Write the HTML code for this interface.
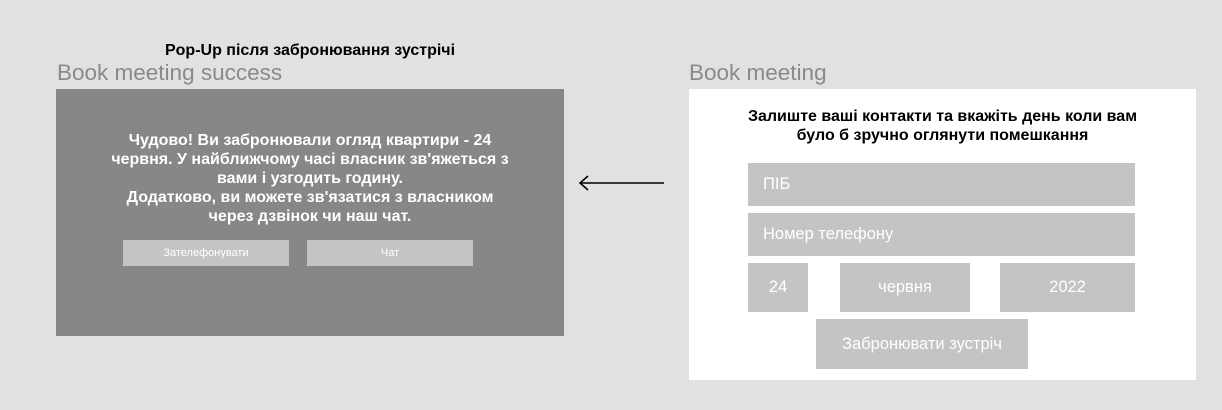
<!DOCTYPE html>
<html><head><meta charset="utf-8"><style>
body{margin:0;width:1222px;height:410px;background:#e2e0e1;position:relative;overflow:hidden;font-family:"Liberation Sans","DejaVu Sans",sans-serif}
.a{position:absolute}
.f{background:#c4c4c4;color:#fff;font-size:16.5px;display:flex;align-items:center}
</style></head><body>
<div class="a" style="left:56px;top:42px;width:508px;text-align:center;font-weight:bold;font-size:16px;color:#000">Pop-Up після забронювання зустрічі</div>
<div class="a" style="left:57px;top:60px;font-size:22.5px;color:#8a8a8a">Book meeting success</div>
<div class="a" style="left:56px;top:89px;width:508px;height:247px;background:#878787"></div>
<div class="a" style="left:56px;top:131px;width:508px;text-align:center;color:#fff;font-weight:bold;font-size:16px;line-height:19px">Чудово! Ви забронювали огляд квартири - 24<br>червня. У найближчому часі власник зв'яжеться з<br>вами і узгодить годину.<br>Додатково,  ви можете зв'язатися з власником<br>через дзвінок чи наш чат.</div>
<div class="a f" style="left:123px;top:240px;width:166px;height:26px;justify-content:center;font-size:11px">Зателефонувати</div>
<div class="a f" style="left:307px;top:240px;width:166px;height:26px;justify-content:center;font-size:11px">Чат</div>
<svg class="a" style="left:570px;top:170px" width="100" height="26"><line x1="10" y1="13" x2="94" y2="13" stroke="#000" stroke-width="1.5"/><polyline points="18,6 10,13 18,20" fill="none" stroke="#000" stroke-width="1.5"/></svg>
<div class="a" style="left:689px;top:60px;font-size:22.5px;color:#8a8a8a">Book meeting</div>
<div class="a" style="left:689px;top:89px;width:507px;height:291px;background:#fff"></div>
<div class="a" style="left:689px;top:107px;width:507px;text-align:center;font-weight:bold;font-size:16px;line-height:19px;color:#000">Залиште ваші контакти та вкажіть день коли вам<br>було б зручно оглянути помешкання</div>
<div class="a f" style="left:748px;top:163px;width:387px;height:43px;padding-left:15px;box-sizing:border-box">ПІБ</div>
<div class="a f" style="left:748px;top:213px;width:387px;height:43px;padding-left:15px;box-sizing:border-box">Номер телефону</div>
<div class="a f" style="left:748px;top:263px;width:60px;height:49px;justify-content:center">24</div>
<div class="a f" style="left:840px;top:263px;width:130px;height:49px;justify-content:center">червня</div>
<div class="a f" style="left:1000px;top:263px;width:135px;height:49px;justify-content:center">2022</div>
<div class="a f" style="left:816px;top:319px;width:212px;height:50px;justify-content:center">Забронювати зустріч</div>
</body></html>
